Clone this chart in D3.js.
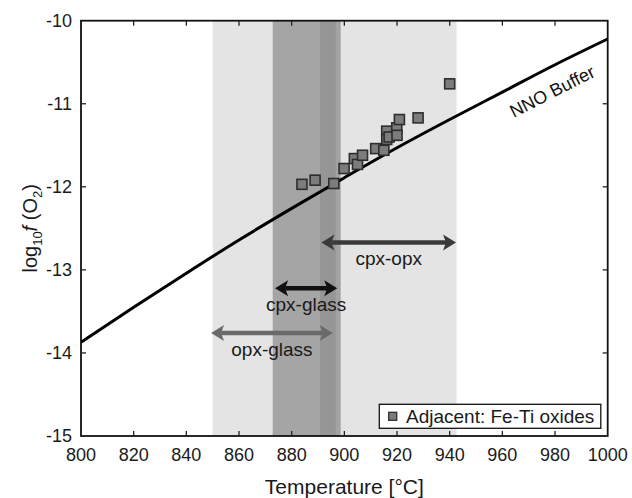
<!DOCTYPE html>
<html><head><meta charset="utf-8">
<script src="https://cdn.jsdelivr.net/npm/d3@7"></script>
<style>body{margin:0;background:#fff}svg{font-family:"Liberation Sans",Arial,sans-serif}</style>
</head><body>
<svg id="c" width="632" height="498"></svg>
<script>
// ---- data ----
const xTicks = [800,820,840,860,880,900,920,940,960,980,1000];
const yTicks = [-15,-14,-13,-12,-11,-10];
const nnoT = [800,820,840,860,880,900,920,940,960,980,1000];
const nnoLogFO2 = [-13.87,-13.45,-13.04,-12.64,-12.26,-11.89,-11.53,-11.19,-10.86,-10.53,-10.22];
const oxideT = [883.9,888.9,896.0,899.9,903.8,905.0,906.9,911.9,915.0,916.1,916.1,917.0,919.9,920.0,920.9,928.0,940.0];
const oxideLogFO2 = [-11.97,-11.92,-11.96,-11.78,-11.66,-11.73,-11.62,-11.54,-11.56,-11.33,-11.43,-11.40,-11.29,-11.38,-11.19,-11.17,-10.76];
const bandStart = [850,872.8,890.8,890.8];
const bandEnd = [942.6,896.7,898.6,896.7];
const bandColor = ["#e4e4e4","#a5a5a5","#a3a3a3","#969696"];
const arrowLabels = ["cpx-opx","cpx-glass","opx-glass"];
const arrowStart = [891.3,873.7,849.4];
const arrowEnd = [942.4,897.3,895.6];
const arrowLevel = [-12.67,-13.22,-13.76];
const arrowColor = ["#3a3a3a","#111111","#6a6a6a"];
const legendLabel = "Adjacent: Fe-Ti oxides";

// ---- layout ----
const svg = d3.select("#c");
const L=81, R=607.7, T=20.7, B=436;
const x = d3.scaleLinear().domain([800,1000]).range([L,R]);
const y = d3.scaleLinear().domain([-15,-10]).range([B,T]);
const txt = "#1a1a1a";

// bands
svg.append("g").selectAll("rect").data(bandStart).join("rect")
  .attr("x",d=>x(d)).attr("y",T).attr("width",(d,i)=>x(bandEnd[i])-x(d)).attr("height",B-T)
  .attr("fill",(d,i)=>bandColor[i]);

// NNO buffer
svg.append("path").datum(nnoT.map((t,i)=>[t,nnoLogFO2[i]]))
  .attr("d",d3.line().x(d=>x(d[0])).y(d=>y(d[1])).curve(d3.curveMonotoneX))
  .attr("fill","none").attr("stroke","#000").attr("stroke-width",3);

// NNO label
svg.append("text").attr("transform","translate(555,97) rotate(-27)")
  .attr("text-anchor","middle").attr("font-size",18).attr("fill","#111").text("NNO Buffer");

// oxide points
svg.append("g").selectAll("rect").data(oxideT).join("rect")
  .attr("x",d=>x(d)-5).attr("y",(d,i)=>y(oxideLogFO2[i])-5).attr("width",10).attr("height",10)
  .attr("fill","#7c7c7c").attr("stroke","#2e2e2e").attr("stroke-width",1.6);

// arrows
const hl=13, hw=8;
arrowStart.forEach((s,i)=>{
  const g=svg.append("g");
  const x0=x(s), x1=x(arrowEnd[i]), yy=y(arrowLevel[i]), c=arrowColor[i];
  g.append("line").attr("x1",x0+hl-3).attr("x2",x1-hl+3).attr("y1",yy).attr("y2",yy)
    .attr("stroke",c).attr("stroke-width",4.5);
  g.append("path").attr("d",`M${x0},${yy} L${x0+hl},${yy-hw} L${x0+hl-3},${yy} L${x0+hl},${yy+hw} Z`).attr("fill",c);
  g.append("path").attr("d",`M${x1},${yy} L${x1-hl},${yy-hw} L${x1-hl+3},${yy} L${x1-hl},${yy+hw} Z`).attr("fill",c);
  g.append("text").attr("x",(x0+x1)/2).attr("y",yy+23).attr("text-anchor","middle")
    .attr("font-size",19).attr("fill",txt).text(arrowLabels[i]);
});

// frame
svg.append("rect").attr("x",L).attr("y",T).attr("width",R-L).attr("height",B-T)
  .attr("fill","none").attr("stroke","#111").attr("stroke-width",1.8);

// ticks
const tk=5;
const tg=svg.append("g").attr("stroke","#222").attr("stroke-width",1.3);
xTicks.slice(1,-1).forEach(t=>{
  tg.append("line").attr("x1",x(t)).attr("x2",x(t)).attr("y1",B).attr("y2",B-tk);
  tg.append("line").attr("x1",x(t)).attr("x2",x(t)).attr("y1",T).attr("y2",T+tk);
});
yTicks.slice(1,-1).forEach(t=>{
  tg.append("line").attr("x1",L).attr("x2",L+tk).attr("y1",y(t)).attr("y2",y(t));
  tg.append("line").attr("x1",R).attr("x2",R-tk).attr("y1",y(t)).attr("y2",y(t));
});
svg.append("g").selectAll("text").data(xTicks).join("text")
  .attr("x",d=>x(d)).attr("y",B+25).attr("text-anchor","middle").attr("font-size",18).attr("fill",txt).text(d=>d);
svg.append("g").selectAll("text").data(yTicks).join("text")
  .attr("x",L-9).attr("y",d=>y(d)+6).attr("text-anchor","end").attr("font-size",18).attr("fill",txt).text(d=>d);

// axis titles
svg.append("text").attr("x",(L+R)/2).attr("y",494).attr("text-anchor","middle").attr("font-size",21)
  .attr("fill",txt).text("Temperature [°C]");
const yt=svg.append("text").attr("transform",`translate(37,${(T+B)/2}) rotate(-90)`).attr("text-anchor","middle")
  .attr("font-size",20).attr("fill",txt);
yt.append("tspan").text("log");
yt.append("tspan").attr("font-size",13).attr("dy",5).text("10");
yt.append("tspan").attr("dy",-5).attr("font-style","italic").text("f");
yt.append("tspan").text(" (O");
yt.append("tspan").attr("font-size",13).attr("dy",5).text("2");
yt.append("tspan").attr("dy",-5).text(")");

// legend
const lg=svg.append("g");
lg.append("rect").attr("x",379.3).attr("y",404.3).attr("width",221.5).attr("height",24)
  .attr("fill","#fff").attr("stroke","#111").attr("stroke-width",1.3);
lg.append("rect").attr("x",388.7).attr("y",412.3).attr("width",8).attr("height",8)
  .attr("fill","#7c7c7c").attr("stroke","#2e2e2e").attr("stroke-width",1.3);
lg.append("text").attr("x",406).attr("y",423).attr("font-size",19).attr("fill",txt).text(legendLabel);
</script>
</body></html>
